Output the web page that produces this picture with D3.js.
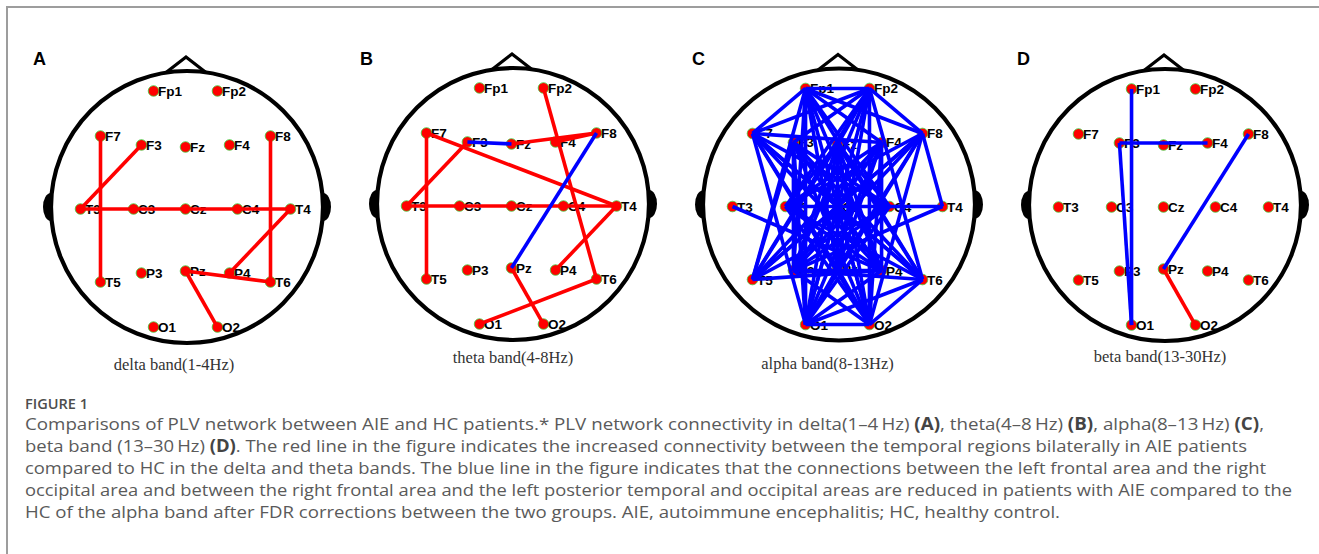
<!DOCTYPE html>
<html>
<head>
<meta charset="utf-8">
<script src="https://cdn.jsdelivr.net/npm/d3@7"></script>
<style>
  html, body { margin: 0; padding: 0; background: #fff; }
  svg { display: block; }
</style>
</head>
<body>
<svg id="fig" width="1319" height="554"></svg>
<script>
// 10-20 montage, 19 scalp electrodes (normalised head coordinates, nose up)
const electrodes = ["Fp1","Fp2","F7","F3","Fz","F4","F8","T3","C3","Cz","C4","T4","T5","P3","Pz","P4","T6","O1","O2"];
const elecX = [-0.235, 0.235, -0.625, -0.324, 0, 0.324, 0.625, -0.772, -0.382, 0, 0.382, 0.772, -0.625, -0.324, 0, 0.324, 0.625, -0.235, 0.235];
const elecY = [-0.868, -0.868, -0.537, -0.471, -0.456, -0.471, -0.537, 0, 0, 0, 0, 0, 0.537, 0.471, 0.456, 0.471, 0.537, 0.868, 0.868];

// Band names
const bandLetters = ["A", "B", "C", "D"];
const bandTitles = ["delta band(1-4Hz)", "theta band(4-8Hz)", "alpha band(8-13Hz)", "beta band(13-30Hz)"];

// Significant PLV edges: red = increased in AIE, blue = decreased in AIE
const deltaRed = [["F7","T5"],["F3","T3"],["T3","T4"],["F8","T6"],["T4","P4"],["Pz","T6"],["Pz","O2"]];
const deltaBlue = [];
const thetaRed = [["F7","T5"],["F7","T4"],["F3","T3"],["Fz","F8"],["F4","F8"],["Fp2","T6"],["T3","T4"],["T4","P4"],["T6","O1"],["Pz","O2"]];
const thetaBlue = [["F3","Fz"],["F8","Pz"]];
const alphaRed = [];
const alphaBlue = [
  ["Fp1","Fp2"],["Fp1","F7"],["Fp1","F8"],["Fp1","F4"],["Fp1","C4"],["Fp1","T6"],["Fp1","P4"],["Fp1","Pz"],["Fp1","O1"],["Fp1","O2"],["Fp1","T5"],["Fp1","P3"],
  ["Fp2","F7"],["Fp2","F8"],["Fp2","F3"],["Fp2","Fz"],["Fp2","C3"],["Fp2","T5"],["Fp2","P3"],["Fp2","Pz"],["Fp2","O1"],["Fp2","O2"],["Fp2","T6"],
  ["F7","F4"],["F7","Cz"],["F7","C4"],["F7","P4"],["F7","Pz"],["F7","T6"],["F7","O1"],["F7","O2"],
  ["F3","P3"],["F3","C4"],["F3","P4"],["F3","T6"],["F3","O1"],["F3","O2"],["F3","T5"],
  ["Fz","Pz"],["Fz","C3"],["Fz","C4"],["Fz","P3"],["Fz","P4"],["Fz","T5"],["Fz","T6"],["Fz","O1"],["Fz","O2"],
  ["F4","P4"],["F4","C3"],["F4","P3"],["F4","Pz"],["F4","T5"],["F4","O1"],["F4","O2"],
  ["F8","T4"],["F8","C3"],["F8","Cz"],["F8","P3"],["F8","Pz"],["F8","T5"],["F8","O1"],["F8","O2"],
  ["C3","C4"],["C3","T6"],["C3","O2"],["C3","P4"],
  ["Cz","P3"],["Cz","P4"],["Cz","O1"],["Cz","O2"],["Cz","T5"],["Cz","T6"],
  ["C4","T4"],["C4","T5"],["C4","O1"],["C4","P3"],
  ["T4","P3"],["T3","P4"],
  ["P3","P4"],["P3","T6"],["P3","O2"],["P4","O1"],["P4","T5"],
  ["Pz","O1"],["Pz","O2"],["T6","O1"],["T6","O2"],["O1","O2"]
];
const betaRed = [["Pz","O2"]];
const betaBlue = [["Fp1","O1"],["F3","O1"],["F3","F4"],["F8","Pz"]];

const bandRed = [deltaRed, thetaRed, alphaRed, betaRed];
const bandBlue = [deltaBlue, thetaBlue, alphaBlue, betaBlue];

// Caption
const figureLabel = "FIGURE 1";
const captionLines = [
  [["Comparisons of PLV network between AIE and HC patients.* PLV network connectivity in delta(1\u20134\u2009Hz) ", 0], ["(A)", 1], [", theta(4\u20138\u2009Hz) ", 0], ["(B)", 1], [", alpha(8\u201313\u2009Hz) ", 0], ["(C)", 1], [",", 0]],
  [["beta band (13\u201330\u2009Hz) ", 0], ["(D)", 1], [". The red line in the figure indicates the increased connectivity between the temporal regions bilaterally in AIE patients", 0]],
  [["compared to HC in the delta and theta bands. The blue line in the figure indicates that the connections between the left frontal area and the right", 0]],
  [["occipital area and between the right frontal area and the left posterior temporal and occipital areas are reduced in patients with AIE compared to the", 0]],
  [["HC of the alpha band after FDR corrections between the two groups. AIE, autoimmune encephalitis; HC, healthy control.", 0]]
];

// ---- layout ----
const svg = d3.select("#fig");
const panelCx = [185.5, 511.5, 837.5, 1163.5];
const panelCy = [209, 206, 206.5, 207];
const headR = 136;
const letterX = [33, 360, 692, 1017];
const titleX = [174, 513, 827.5, 1160];
const titleY = [370, 363, 369, 362];
const captionRight = [1264, 1247, 1266, 1292, 1060];

// frame
svg.append("path")
  .attr("d", "M7,554 L7,7 L1319,7")
  .attr("fill", "none")
  .attr("stroke", "#9d9d9d")
  .attr("stroke-width", 2);

const idx = new Map(electrodes.map((e, i) => [e, i]));

bandLetters.forEach((letter, p) => {
  const cx = panelCx[p], cy = panelCy[p];
  const x = d3.scaleLinear().domain([-1, 1]).range([cx - headR, cx + headR]);
  const y = d3.scaleLinear().domain([-1, 1]).range([cy - headR, cy + headR]);
  const hx = cx + 1.5, hy = cy - 2;
  const g = svg.append("g");

  // ears
  [-1, 1].forEach(s => {
    g.append("ellipse")
      .attr("cx", hx + s * headR).attr("cy", hy)
      .attr("rx", 8).attr("ry", 14)
      .attr("fill", "#000");
  });
  // head outline
  g.append("circle")
    .attr("cx", hx).attr("cy", hy).attr("r", headR)
    .attr("fill", "#fff").attr("stroke", "#000").attr("stroke-width", 4.2);
  // nose
  g.append("path")
    .attr("d", `M${hx - 21},${hy - headR + 1.5} L${hx - 1},${hy - headR - 14} L${hx + 19},${hy - headR + 1.5}`)
    .attr("fill", "none").attr("stroke", "#000").attr("stroke-width", 3.2)
    .attr("stroke-linejoin", "miter");

  // electrodes
  g.selectAll("circle.el").data(electrodes).join("circle")
    .attr("class", "el")
    .attr("cx", (d, i) => x(elecX[i]))
    .attr("cy", (d, i) => y(elecY[i]))
    .attr("r", 5.3)
    .attr("fill", "#ff0000")
    .attr("stroke", "#3fcf3f")
    .attr("stroke-width", 0.8);

  g.selectAll("text.lab").data(electrodes).join("text")
    .attr("class", "lab")
    .attr("x", (d, i) => x(elecX[i]) + 4.5)
    .attr("y", (d, i) => y(elecY[i]) + 5)
    .attr("font-family", "Liberation Sans, Arial, sans-serif")
    .attr("font-weight", "bold")
    .attr("font-size", 13.5)
    .attr("fill", "#000")
    .text(d => d);

  // connections
  const drawEdges = (edges, color) => {
    g.selectAll(null).data(edges).join("line")
      .attr("x1", d => x(elecX[idx.get(d[0])]))
      .attr("y1", d => y(elecY[idx.get(d[0])]))
      .attr("x2", d => x(elecX[idx.get(d[1])]))
      .attr("y2", d => y(elecY[idx.get(d[1])]))
      .attr("stroke", color)
      .attr("stroke-width", 3.6);
  };
  drawEdges(bandRed[p], "#ff0000");
  drawEdges(bandBlue[p], "#0000ff");

  // panel letter
  svg.append("text")
    .attr("x", letterX[p]).attr("y", 65)
    .attr("font-family", "Liberation Sans, Arial, sans-serif")
    .attr("font-weight", "bold")
    .attr("font-size", 18)
    .attr("fill", "#000")
    .text(letter);

  // band title
  svg.append("text")
    .attr("x", titleX[p]).attr("y", titleY[p])
    .attr("text-anchor", "middle")
    .attr("font-family", "Liberation Serif, Times New Roman, serif")
    .attr("font-size", 16.5)
    .attr("fill", "#333")
    .text(bandTitles[p]);
});

// caption
svg.append("text")
  .attr("x", 25).attr("y", 409)
  .attr("font-family", "Open Sans, sans-serif")
  .attr("font-weight", 600)
  .attr("font-size", 14.5)
  .attr("fill", "#4d4d4d")
  .attr("textLength", 63)
  .attr("lengthAdjust", "spacingAndGlyphs")
  .text(figureLabel);

captionLines.forEach((parts, i) => {
  const t = svg.append("text")
    .attr("x", 25).attr("y", 430 + i * 22)
    .attr("font-family", "Open Sans, sans-serif")
    .attr("font-size", 17)
    .attr("fill", "#5a5a5a")
    .attr("textLength", captionRight[i] - 25)
    .attr("lengthAdjust", "spacingAndGlyphs");
  parts.forEach(([s, b]) => {
    t.append("tspan")
      .attr("font-weight", b ? 700 : 400)
      .attr("fill", b ? "#444" : null)
      .text(s);
  });
});
</script>
</body>
</html>
